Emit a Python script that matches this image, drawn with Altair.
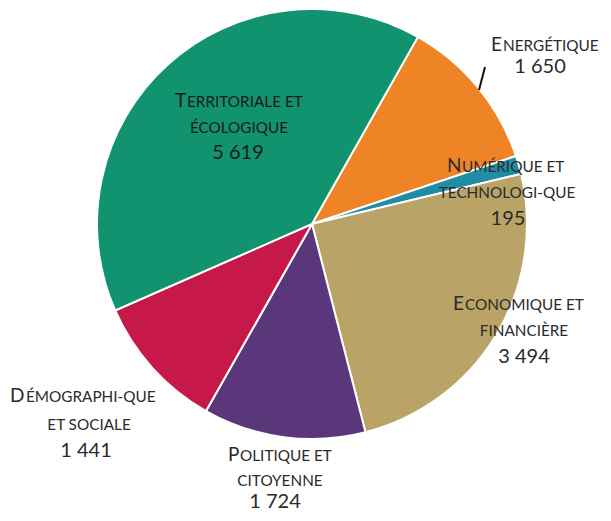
import math
import altair as alt
import pandas as pd

# ---- data ----
categories = ["Energétique", "Numérique et technologique", "Economique et financière",
              "Politique et citoyenne", "Démographique et sociale", "Territoriale et écologique"]
values = [1650, 195, 3494, 1724, 1441, 5619]
colors = ["#EF8427", "#1F8DA4", "#BAA366", "#5A377B", "#C7184A", "#12936F"]

# label lines: first big letter, rest in small caps, second line, value
title_first = ["E", "N", "E", "P", "D", "T"]
title_rest = ["NERGÉTIQUE", "UMÉRIQUE ET", "CONOMIQUE ET", "OLITIQUE ET", "ÉMOGRAPHI-QUE", "ERRITORIALE ET"]
second_line = ["", "TECHNOLOGI-QUE", "FINANCIÈRE", "CITOYENNE", "ET SOCIALE", "ÉCOLOGIQUE"]
value_labels = ["1 650", "195", "3 494", "1 724", "1 441", "5 619"]

# ---- layout (screen pixels) ----
M = 8
CX, CY, R = 312, 224, 215
START = math.radians(29.5)

first_x = [491, 447, 453, 228, 10, 175]
rest_x = [503, 462, 465, 240, 26, 187]
line1_y = [51, 172, 310, 461, 402, 107]
center_x2 = [None, 507, 524, 280, 89, 239]
line2_y = [None, 198, 336, 486, 430, 133]
center_x3 = [540, 508, 524, 275, 86, 238]
line3_y = [73, 225, 363, 508, 457, 159]
text_col = ["#2b2b2b", "#2b2b2b", "#2b2b2b", "#2b2b2b", "#2b2b2b", "#1a1a1a"]

pie_df = pd.DataFrame({"cat": categories, "value": values, "ord": list(range(len(values)))})

left_rows, center_rows = [], []
for i in range(len(categories)):
    left_rows.append({"x": first_x[i] - M, "y": line1_y[i] - M, "t": title_first[i], "s": 19, "c": text_col[i]})
    left_rows.append({"x": rest_x[i] - M, "y": line1_y[i] - M, "t": title_rest[i], "s": 15.3, "c": text_col[i]})
    if second_line[i]:
        center_rows.append({"x": center_x2[i] - M, "y": line2_y[i] - M, "t": second_line[i], "s": 15.3, "c": text_col[i]})
    center_rows.append({"x": center_x3[i] - M, "y": line3_y[i] - M, "t": value_labels[i], "s": 20, "c": text_col[i]})
left_df = pd.DataFrame(left_rows)
center_df = pd.DataFrame(center_rows)

pie = alt.Chart(pie_df).mark_arc(outerRadius=R, stroke="white", strokeWidth=2).encode(
    theta=alt.Theta("value:Q", stack=True, scale=alt.Scale(range=[START, START + 2 * math.pi])),
    order=alt.Order("ord:Q"),
    color=alt.Color("cat:N", scale=alt.Scale(domain=categories, range=colors), legend=None),
    x=alt.value(CX - M),
    y=alt.value(CY - M),
)

def text_layer(df, align):
    return alt.Chart(df).mark_text(align=align, baseline="alphabetic", font="Lato").encode(
        x=alt.X("x:Q", scale=None, axis=None),
        y=alt.Y("y:Q", scale=None, axis=None),
        text="t:N",
        size=alt.Size("s:Q", scale=None, legend=None),
        color=alt.Color("c:N", scale=None, legend=None),
    )

tick = alt.Chart(pd.DataFrame({"a": [0]})).mark_rule(color="#111", strokeWidth=2).encode(
    x=alt.value(485 - M), y=alt.value(67 - M), x2=alt.value(479 - M), y2=alt.value(90 - M)
)

chart = alt.layer(pie, tick, text_layer(left_df, "left"), text_layer(center_df, "center")).properties(
    width=595, height=505, padding=0, autosize=alt.AutoSizeParams(type="none")
).configure_view(stroke=None)

chart.save("out.html", embed_options={"renderer": "svg", "actions": False})
